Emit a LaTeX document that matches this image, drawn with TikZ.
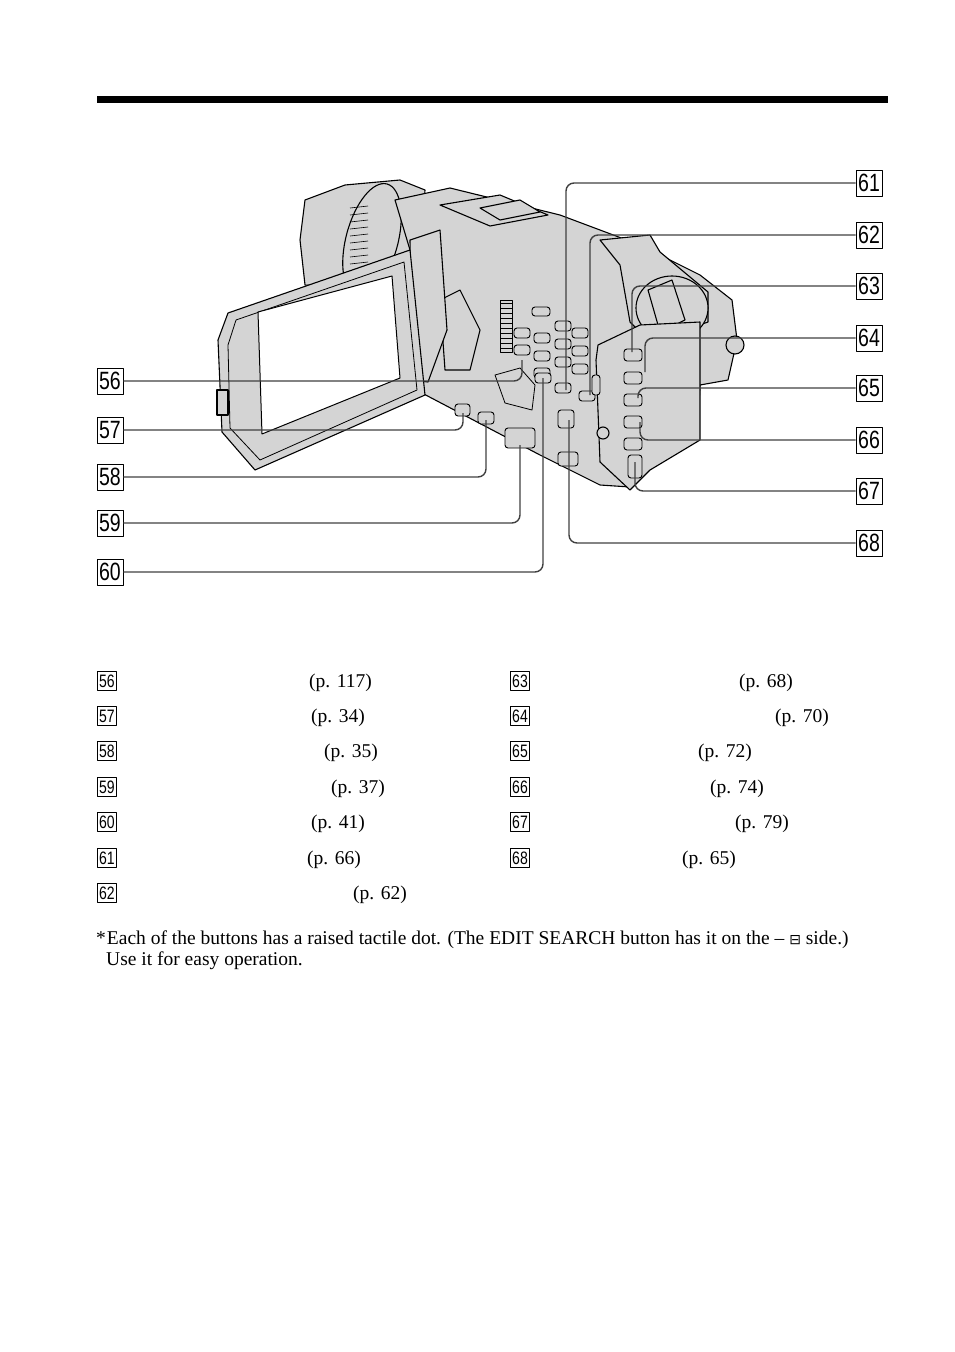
\documentclass[tikz,border=0pt]{standalone}
\usepackage{fontspec}
\setmainfont{Liberation Serif}
\setsansfont{Liberation Sans}
\newfontfamily\djv{DejaVu Sans}
\newcommand{\nb}[1]{\scalebox{0.78}[1]{#1}}
\begin{document}
\begin{tikzpicture}[x=1pt,y=-1pt,line join=round,
  cam/.style={draw=black,line width=1.1pt,fill=camgray},
  btn/.style={draw=black,line width=0.9pt,fill=camgray,rounded corners=3pt},
  lead/.style={draw=black!75,line width=1.4pt,rounded corners=8pt},
  numbox/.style={draw=black,line width=0.9pt,inner sep=0pt,minimum width=26pt,minimum height=26pt,font=\sffamily\fontsize{25}{25}\selectfont},
  smallbox/.style={draw=black,line width=0.7pt,inner sep=0pt,minimum width=19pt,minimum height=19pt,font=\sffamily\fontsize{18}{18}\selectfont},
  txt/.style={anchor=base west,inner sep=0,font=\fontsize{19.5}{22}\selectfont}]
\definecolor{camgray}{HTML}{D4D4D4}
\useasboundingbox (0,0) rectangle (954,1352);
\fill (97,96) rectangle (888,103);
% ---- camera ----
\draw[cam] (305,200)--(345,185)--(400,180)--(425,190)--(420,262)--(345,288)--(305,285)--(300,240)--cycle;
\draw[cam,rotate around={-15:(372,240)}] (372,240) ellipse (26pt and 58pt);
\foreach \i in {0,...,12}{\draw[line width=0.6pt] (350,208+\i*7)--(368,206+\i*7);}
\draw[cam] (395,200)--(450,188)--(560,215)--(640,245)--(700,275)--(732,300)--(737,340)--(728,380)--(700,385)--(697,440)--(662,452)--(640,472)--(630,487)--(600,485)--(540,455)--(420,392)--(410,250)--cycle;
\draw[cam] (440,205)--(500,195)--(548,215)--(490,226)--cycle;
\draw[cam] (480,208)--(520,200)--(540,212)--(500,220)--cycle;
\draw[cam] (600,240)--(650,235)--(660,252)--(708,292)--(708,322)--(650,342)--(630,322)--(620,265)--cycle;
\draw[cam] (672,308) ellipse (36pt and 32pt);
\draw[cam] (648,290)--(672,280)--(685,320)--(660,332)--cycle;
\draw[cam] (598,345)--(640,325)--(700,322)--(700,440)--(650,470)--(630,490)--(600,462)--(596,360)--cycle;
\draw[cam] (735,345) circle (9pt);
\draw[cam] (440,300)--(460,290)--(480,330)--(470,370)--(445,370)--cycle;
\draw[line width=0.8pt] (500,300) rectangle (512,352);
\foreach \i in {0,...,9}{\draw[line width=0.4pt] (500,303+\i*5)--(512,303+\i*5);}
\draw[line width=0.8pt] (495,375)--(520,368)--(535,385)--(532,410)--(505,403)--cycle;
\foreach \x/\y in {522/333,542/338,563/326,580/333,522/350,542/356,563/344,580/351,542/373,563/362,580/369,563/388,587/396,543/378}{\draw[btn] (\x-8,\y-5) rectangle (\x+8,\y+5);}
\draw[btn] (532,307) rectangle (550,316);
\foreach \y in {355,378,400,422,444}{\draw[btn] (624,\y-6) rectangle (642,\y+6);}
\draw[btn] (628,455) rectangle (642,478);
\draw[btn] (455,404) rectangle (470,416);
\draw[btn] (478,412) rectangle (494,424);
\draw[btn] (505,428) rectangle (535,448);
\draw[btn] (558,410) rectangle (574,428);
\draw[btn] (558,452) rectangle (578,466);
\draw[cam] (603,433) circle (6pt);
\draw[btn] (592,375) rectangle (600,395);
% LCD
\draw[cam] (410,240)--(440,230)--(447,330)--(428,382)--(412,380)--cycle;
\draw[cam] (228,313)--(410,250)--(425,395)--(255,470)--(222,432)--(218,340)--cycle;
\draw[line width=0.8pt] (236,320)--(404,262)--(417,390)--(260,460)--(230,428)--(228,345)--cycle;
\draw[line width=1pt,fill=white] (258,312)--(392,276)--(400,378)--(262,434)--cycle;
\draw[cam] (217,390) rectangle (228,415);
% ---- labels ----
\node[numbox] (n56) at (110,381) {\nb{56}};
\node[numbox] (n57) at (110,430) {\nb{57}};
\node[numbox] (n58) at (110,477) {\nb{58}};
\node[numbox] (n59) at (110,523) {\nb{59}};
\node[numbox] (n60) at (110,572) {\nb{60}};
\node[numbox] (n61) at (869,183) {\nb{61}};
\node[numbox] (n62) at (869,235) {\nb{62}};
\node[numbox] (n63) at (869,286) {\nb{63}};
\node[numbox] (n64) at (869,338) {\nb{64}};
\node[numbox] (n65) at (869,388) {\nb{65}};
\node[numbox] (n66) at (869,440) {\nb{66}};
\node[numbox] (n67) at (869,491) {\nb{67}};
\node[numbox] (n68) at (869,543) {\nb{68}};
\coordinate (t56) at (522,360); \coordinate (t57) at (463,413);
\coordinate (t58) at (486,420); \coordinate (t59) at (520,445);
\coordinate (t60) at (543,378); \coordinate (t61) at (566,390);
\coordinate (t62) at (590,395); \coordinate (t63) at (632,352);
\coordinate (t64) at (645,372); \coordinate (t65) at (638,398);
\coordinate (t66) at (640,422); \coordinate (t67) at (635,462);
\coordinate (t68) at (569,420);
\foreach \n in {56,57,58,59,60}{\draw[lead] (n\n.east) -| (t\n);}
\foreach \n in {61,62,63,64,65,66,67,68}{\draw[lead] (n\n.west) -| (t\n);}
% ---- list ----
\node[smallbox] (l56) at (107,681) {\nb{56}};
\node[smallbox] (l57) at (107,716) {\nb{57}};
\node[smallbox] (l58) at (107,751) {\nb{58}};
\node[smallbox] (l59) at (107,787) {\nb{59}};
\node[smallbox] (l60) at (107,822) {\nb{60}};
\node[smallbox] (l61) at (107,858) {\nb{61}};
\node[smallbox] (l62) at (107,893) {\nb{62}};
\node[smallbox] (l63) at (520,681) {\nb{63}};
\node[smallbox] (l64) at (520,716) {\nb{64}};
\node[smallbox] (l65) at (520,751) {\nb{65}};
\node[smallbox] (l66) at (520,787) {\nb{66}};
\node[smallbox] (l67) at (520,822) {\nb{67}};
\node[smallbox] (l68) at (520,858) {\nb{68}};
\node[txt] (p56) at (309,687) {(p. 117)};
\node[txt] (p57) at (311,722) {(p. 34)};
\node[txt] (p58) at (324,757) {(p. 35)};
\node[txt] (p59) at (331,793) {(p. 37)};
\node[txt] (p60) at (311,828) {(p. 41)};
\node[txt] (p61) at (307,864) {(p. 66)};
\node[txt] (p62) at (353,899) {(p. 62)};
\node[txt] (p63) at (739,687) {(p. 68)};
\node[txt] (p64) at (775,722) {(p. 70)};
\node[txt] (p65) at (698,757) {(p. 72)};
\node[txt] (p66) at (710,793) {(p. 74)};
\node[txt] (p67) at (735,828) {(p. 79)};
\node[txt] (p68) at (682,864) {(p. 65)};
\node[txt] (f1) at (96,944) {*\kern1pt Each of the buttons has a raised tactile dot. (The EDIT SEARCH button has it on the – {\djv\fontsize{14}{14}\selectfont ⊟} side.)};
\node[txt] (f2) at (106,965) {Use it for easy operation.};
\end{tikzpicture}
\end{document}
